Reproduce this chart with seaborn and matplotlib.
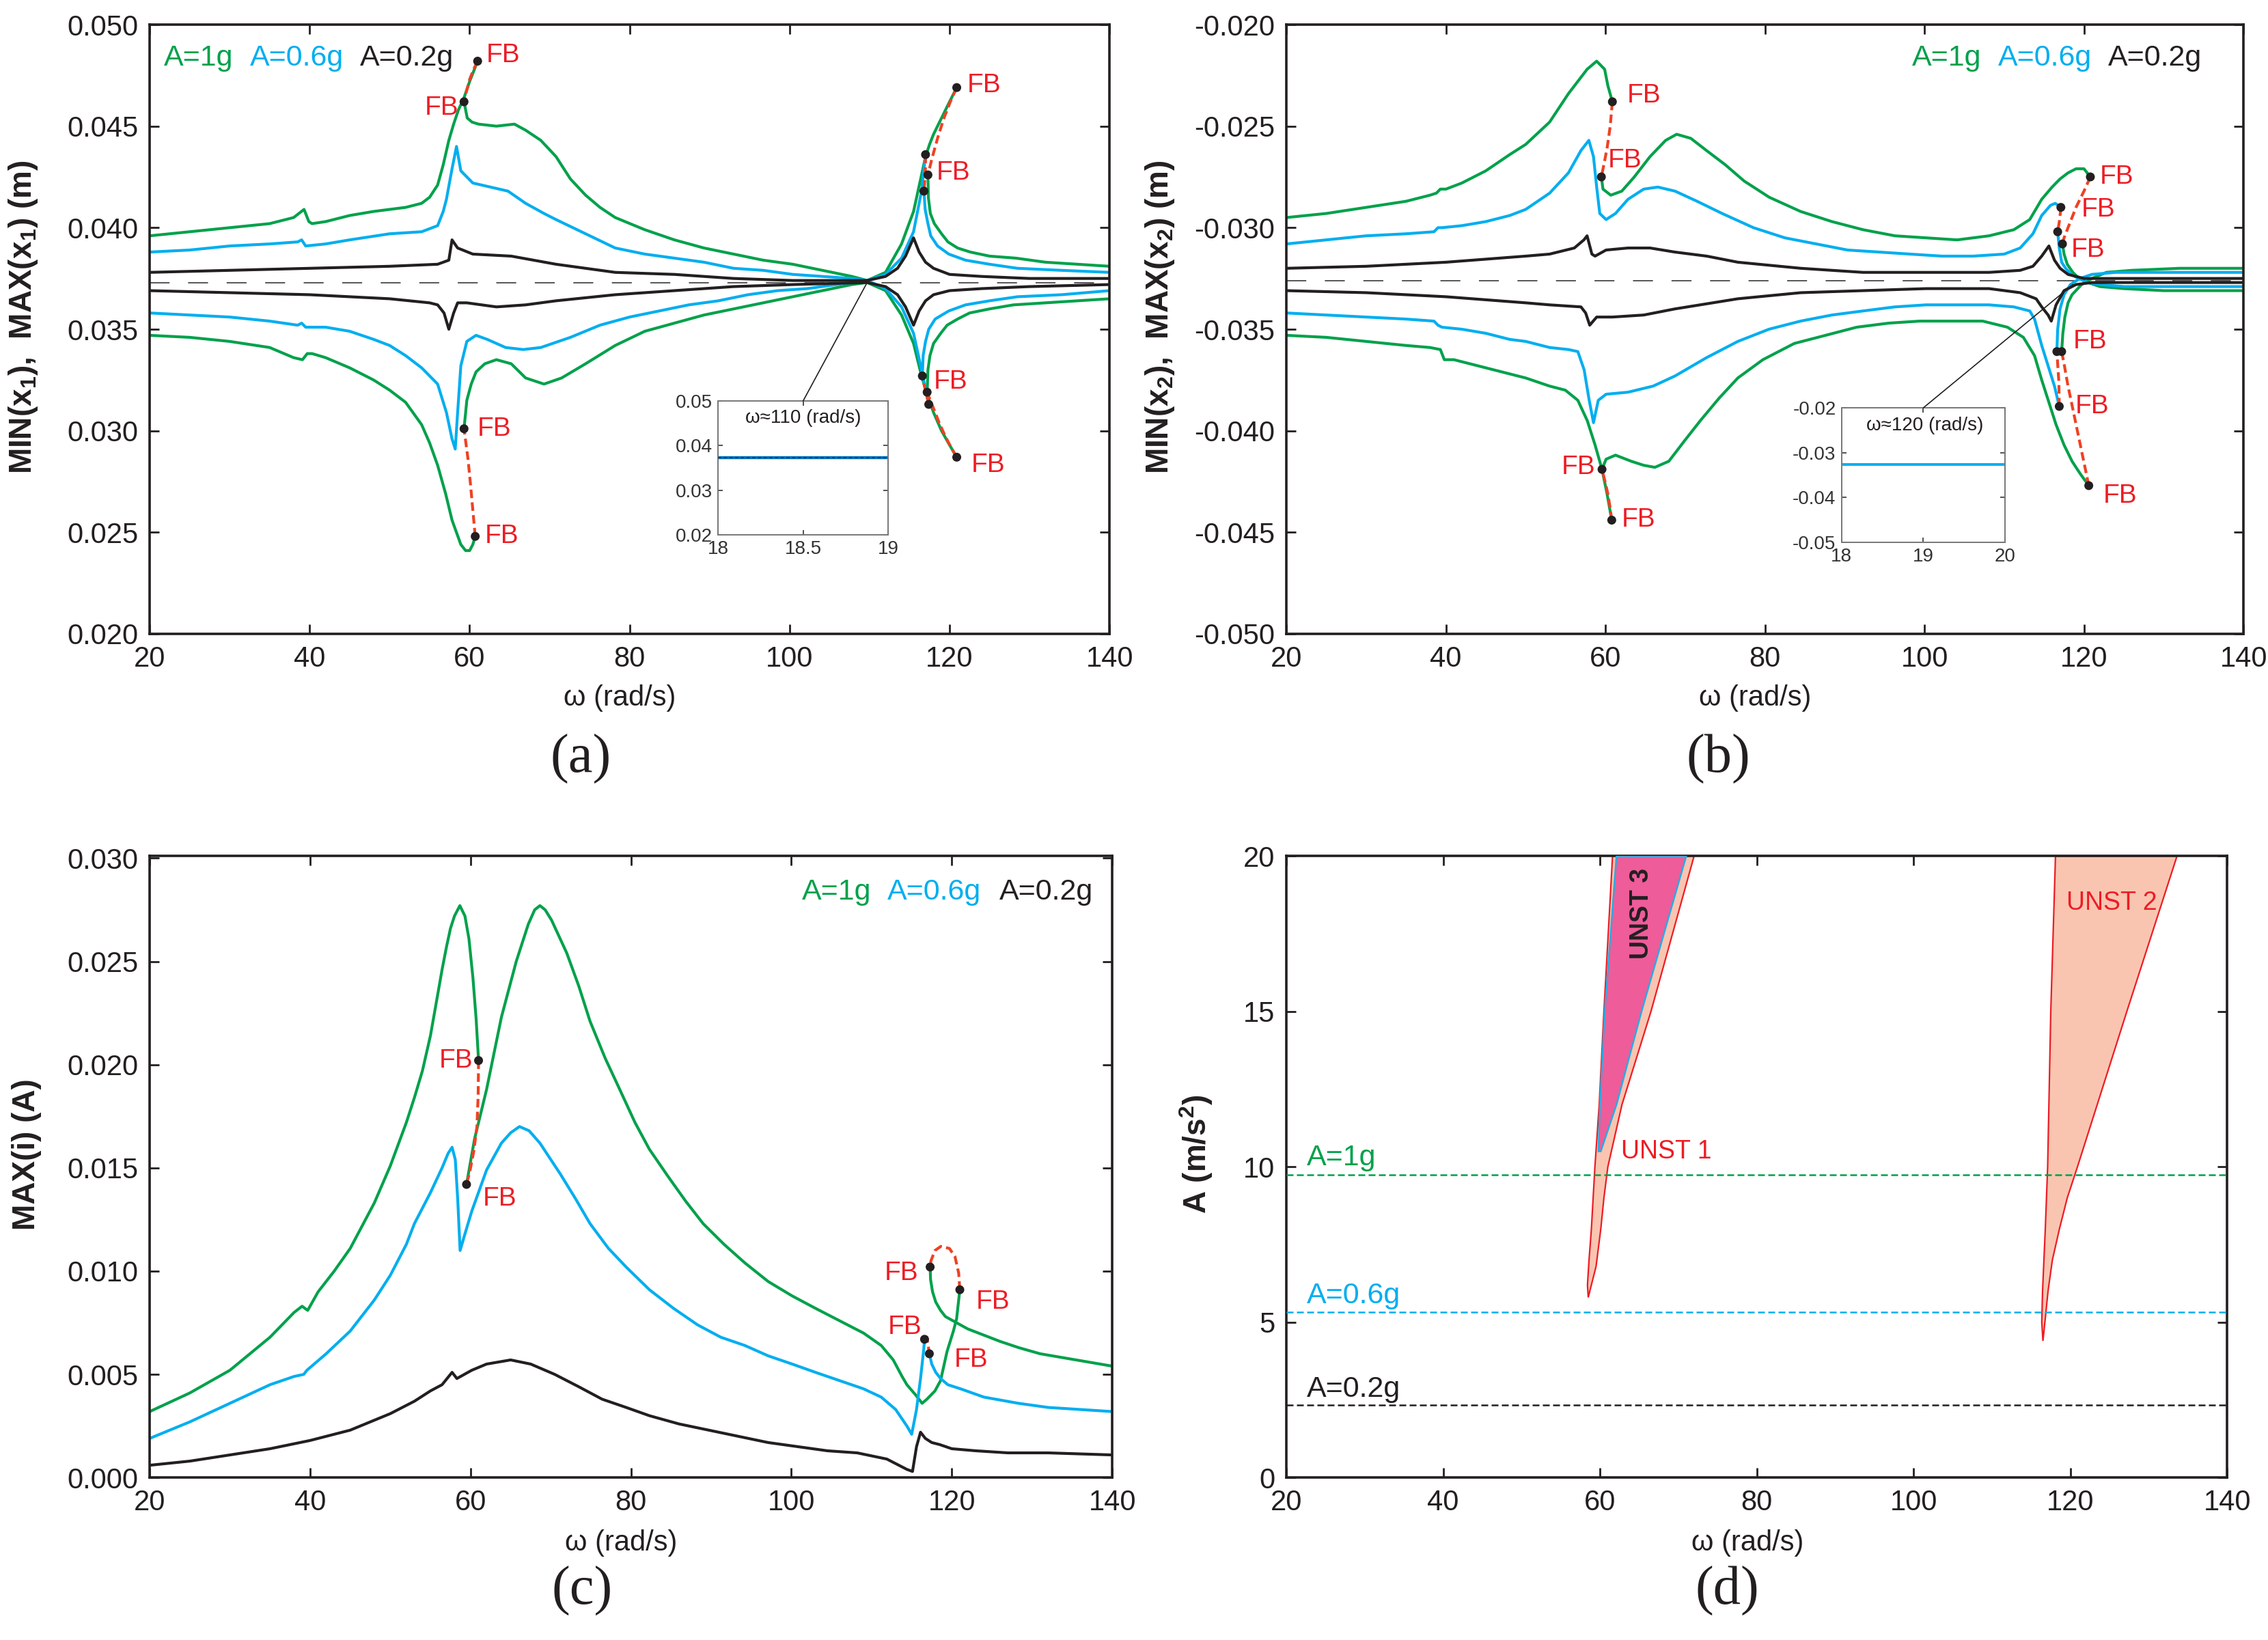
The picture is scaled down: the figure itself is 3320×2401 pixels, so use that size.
import matplotlib
matplotlib.use('Agg')
import matplotlib.pyplot as plt
import seaborn as sns
from matplotlib.patches import ConnectionPatch
from matplotlib.ticker import FormatStrFormatter

# ---------------- colours ----------------
GREEN = '#00a14b'
BLUE = '#00aeef'
BLACK = '#231f20'
RED_DASH = '#ef4123'
RED_TXT = '#ed1c24'

# ---------------- panel (a): MIN/MAX x1 ----------------
A1G_UP_W = [20, 25, 30, 35, 38, 39.3, 39.9, 40.3, 42, 45, 48, 50, 52, 54, 55, 56, 56.7, 57.4, 58.0, 58.6, 59.3, 60.0, 60.6, 61.0]
A1G_UP_V = [0.0396, 0.0398, 0.0400, 0.0402, 0.0405, 0.0409, 0.0403, 0.0402, 0.0403, 0.0406, 0.0408, 0.0409, 0.0410, 0.0412, 0.0415, 0.0421, 0.0431, 0.0443, 0.0451, 0.0458, 0.0464, 0.0472, 0.0478, 0.0482]
A1G_UPD_W = [61.0, 60.5, 60.0, 59.6, 59.3]
A1G_UPD_V = [0.0482, 0.0478, 0.0473, 0.0467, 0.0462]
A1G_UP2_W = [59.3, 59.7, 60.3, 61.1, 63.35, 65.6, 67.0, 68.9, 70.8, 72.6, 74.5, 76.3, 78.2, 81.9, 85.6, 89.3, 93.0, 96.7, 100.4, 104.1, 107.8, 109.7]
A1G_UP2_V = [0.0462, 0.0454, 0.0452, 0.0451, 0.0450, 0.0451, 0.0448, 0.0443, 0.0435, 0.0424, 0.0416, 0.0410, 0.0405, 0.0399, 0.0394, 0.0390, 0.0387, 0.0384, 0.0382, 0.0379, 0.0376, 0.0374]
A1G_UP3_W = [109.7, 112, 114, 115.5, 116.5, 117.0, 117.5, 118, 119, 120, 120.9]
A1G_UP3_V = [0.0374, 0.0378, 0.0392, 0.0408, 0.0426, 0.0435, 0.0441, 0.0446, 0.0454, 0.0462, 0.0469]
A1G_UP3D_W = [120.9, 120.2, 119.3, 118.5, 117.8, 117.3]
A1G_UP3D_V = [0.0469, 0.0463, 0.0454, 0.0444, 0.0434, 0.0426]
A1G_UP4_W = [117.3, 117.35, 117.6, 118.1, 119, 119.8, 121, 122.6, 125, 128.3, 132, 136, 140]
A1G_UP4_V = [0.0426, 0.0415, 0.0407, 0.0402, 0.0397, 0.0393, 0.0390, 0.0388, 0.0386, 0.0385, 0.0383, 0.0382, 0.0381]

A1G_LO_W = [20, 25, 30, 35, 38, 39.1, 39.7, 40.3, 42, 45, 48, 50, 52, 54, 55, 56, 57, 57.8, 58.9, 59.5, 60.0, 60.4, 60.7]
A1G_LO_V = [0.0347, 0.0346, 0.0344, 0.0341, 0.0336, 0.0335, 0.0338, 0.0338, 0.0336, 0.0331, 0.0325, 0.0320, 0.0314, 0.0303, 0.0294, 0.0283, 0.0269, 0.0256, 0.0244, 0.0241, 0.0241, 0.0244, 0.0248]
A1G_LOD_W = [60.7, 60.4, 60.1, 59.8, 59.5, 59.3]
A1G_LOD_V = [0.0248, 0.0261, 0.0274, 0.0286, 0.0295, 0.0301]
A1G_LO2_W = [59.3, 59.65, 60.2, 60.8, 61.9, 63.35, 65.2, 67.0, 69.3, 71.5, 74.5, 78.2, 81.9, 85.6, 89.3, 93.0, 96.7, 100.4, 104.1, 107.8, 109.7]
A1G_LO2_V = [0.0301, 0.0315, 0.0323, 0.0329, 0.0333, 0.0335, 0.0333, 0.0326, 0.0323, 0.0326, 0.0333, 0.0342, 0.0349, 0.0353, 0.0357, 0.0360, 0.0363, 0.0366, 0.0369, 0.0372, 0.0373]
A1G_LO3_W = [109.7, 112, 114, 115.5, 116.5, 117.2, 118, 119, 120, 120.9]
A1G_LO3_V = [0.0373, 0.0369, 0.0357, 0.0343, 0.0327, 0.0318, 0.0309, 0.0300, 0.0293, 0.0287]
A1G_LO3D_W = [120.9, 120.3, 119.5, 118.7, 117.9, 117.2]
A1G_LO3D_V = [0.0287, 0.0291, 0.0297, 0.0304, 0.0312, 0.0319]
A1G_LO4_W = [117.2, 117.3, 117.55, 118.0, 118.9, 119.7, 121, 122.5, 125, 128, 132, 136, 140]
A1G_LO4_V = [0.0319, 0.0330, 0.0337, 0.0343, 0.0348, 0.0352, 0.0355, 0.0358, 0.0360, 0.0362, 0.0363, 0.0364, 0.0365]

A06_UP_W = [20, 25, 30, 35, 38.5, 39.0, 39.5, 42, 45, 50, 54, 56, 56.7, 57.1, 57.8, 58.36, 58.9, 60.4, 62.6, 64.8, 67.0, 69.3, 70.8, 74.5, 78.2, 81.9, 85.6, 89.3, 93.0, 96.7, 100.4, 104.1, 107.8, 109.7, 112, 114, 115.5, 116.5, 117.0]
A06_UP_V = [0.0388, 0.0389, 0.0391, 0.0392, 0.0393, 0.0394, 0.0391, 0.0392, 0.0394, 0.0397, 0.0398, 0.0401, 0.0408, 0.0414, 0.0429, 0.0440, 0.0428, 0.0422, 0.0420, 0.0418, 0.0412, 0.0407, 0.0404, 0.0397, 0.0390, 0.0387, 0.0385, 0.0383, 0.0380, 0.0379, 0.0377, 0.0376, 0.0375, 0.0374, 0.0377, 0.0385, 0.0398, 0.0418, 0.0436]
A06_UPD_W = [117.0, 117.0, 116.9, 116.8]
A06_UPD_V = [0.0436, 0.0430, 0.0423, 0.0418]
A06_UP2_W = [116.8, 116.95, 117.3, 117.65, 118.5, 119.9, 122, 125, 128.5, 134, 140]
A06_UP2_V = [0.0418, 0.0409, 0.0402, 0.0396, 0.0391, 0.0387, 0.0384, 0.0382, 0.0380, 0.0379, 0.0378]
A06_LO_W = [20, 25, 30, 35, 38.5, 39.0, 39.5, 42, 45, 48, 50, 52, 54, 56.0, 57.1, 57.8, 58.2, 58.5, 58.9, 59.65, 60.8, 62.2, 64.5, 66.7, 68.9, 72.6, 76.3, 80.0, 83.7, 87.4, 91.1, 94.8, 98.5, 102.2, 105.9, 109.7, 112, 114, 115.5, 116.5, 117.4]
A06_LO_V = [0.0358, 0.0357, 0.0356, 0.0354, 0.0352, 0.0353, 0.0351, 0.0351, 0.0349, 0.0345, 0.0342, 0.0337, 0.0331, 0.0323, 0.0309, 0.0296, 0.0291, 0.0309, 0.0332, 0.0344, 0.0347, 0.0345, 0.0341, 0.0340, 0.0341, 0.0346, 0.0352, 0.0356, 0.0359, 0.0362, 0.0364, 0.0367, 0.0369, 0.0370, 0.0372, 0.0374, 0.0370, 0.0361, 0.0348, 0.0330, 0.0313]
A06_LOD_W = [117.4, 117.1, 116.8, 116.6]
A06_LOD_V = [0.0313, 0.0318, 0.0323, 0.0327]
A06_LO2_W = [116.6, 116.7, 117.0, 117.4, 118.2, 119.9, 122, 125, 128.5, 134, 140]
A06_LO2_V = [0.0327, 0.0337, 0.0344, 0.0350, 0.0355, 0.0359, 0.0362, 0.0364, 0.0366, 0.0367, 0.0369]

A02_UP_W = [20, 30, 40, 50, 56, 57.4, 57.8, 58.5, 60.4, 65.2, 70.8, 78.2, 85.6, 93.0, 100.4, 105, 109.7, 112, 113.5, 114.5, 115.5, 116.2, 117, 118, 120, 124, 130, 140]
A02_UP_V = [0.0378, 0.0379, 0.0380, 0.0381, 0.0382, 0.0384, 0.0394, 0.0390, 0.0387, 0.0386, 0.0382, 0.0378, 0.0377, 0.0375, 0.0374, 0.0374, 0.0374, 0.0376, 0.0380, 0.0386, 0.0395, 0.0388, 0.0383, 0.0380, 0.0377, 0.0376, 0.0375, 0.0375]
A02_LO_W = [20, 30, 40, 50, 55, 56.0, 56.8, 57.4, 58.0, 58.5, 59.65, 63.35, 67.0, 70.8, 78.2, 85.6, 93.0, 100.4, 109.7, 112, 113.5, 114.5, 115.5, 116.2, 117, 118, 120, 124, 130, 140]
A02_LO_V = [0.0369, 0.0368, 0.0367, 0.0365, 0.0363, 0.0362, 0.0358, 0.0350, 0.0358, 0.0363, 0.0363, 0.0361, 0.0362, 0.0364, 0.0367, 0.0369, 0.0371, 0.0372, 0.0373, 0.0371, 0.0367, 0.0361, 0.0352, 0.0359, 0.0364, 0.0367, 0.0369, 0.0370, 0.0371, 0.0372]
A_MEAN_W = [20, 140]
A_MEAN_V = [0.0373, 0.0373]

A_FB_W = [61.0, 59.3, 60.7, 59.3, 117.0, 117.3, 116.8, 120.9, 116.6, 117.2, 117.4, 120.9]
A_FB_V = [0.0482, 0.0462, 0.0248, 0.0301, 0.0436, 0.0426, 0.0418, 0.0469, 0.0327, 0.0319, 0.0313, 0.0287]
A_FBL_W = [62.1, 54.4, 122.2, 118.4, 118.0, 122.7, 61.0, 61.9]
A_FBL_V = [0.0485, 0.0459, 0.0470, 0.0427, 0.0324, 0.0283, 0.0301, 0.0248]

A_INSET_W = [18.0, 18.25, 18.5, 18.75, 19.0]
A_INSET_V = [0.0373, 0.0373, 0.0373, 0.0373, 0.0373]

# ---------------- panel (b): MIN/MAX x2 ----------------
B1G_UP_W = [20, 25, 30, 35, 38, 38.8, 39.3, 40, 42, 45, 48, 50, 53.0, 55.36, 57.7, 58.9, 59.9, 60.3, 60.87]
B1G_UP_V = [-0.0295, -0.0293, -0.0290, -0.0287, -0.0284, -0.0283, -0.0281, -0.0281, -0.0278, -0.0272, -0.0264, -0.0259, -0.0248, -0.0234, -0.0222, -0.0218, -0.0222, -0.0230, -0.0238]
B1G_UPD_W = [60.87, 60.6, 60.2, 59.8, 59.49]
B1G_UPD_V = [-0.0238, -0.0250, -0.0261, -0.0269, -0.0275]
B1G_UP2_W = [59.49, 59.69, 60.67, 62.05, 63.62, 65.59, 67.55, 68.93, 70.7, 72.67, 75.02, 77.38, 80.53, 84.46, 88.4, 92.3, 96.3, 100.2, 104.1, 108.1, 111.2, 113.2, 114.7, 116, 117, 118, 119, 120, 120.8]
B1G_UP2_V = [-0.0275, -0.0281, -0.0284, -0.0282, -0.0275, -0.0265, -0.0257, -0.0254, -0.0256, -0.0262, -0.0269, -0.0277, -0.0285, -0.0292, -0.0297, -0.0301, -0.0304, -0.0305, -0.0306, -0.0304, -0.0301, -0.0296, -0.0286, -0.0280, -0.0276, -0.0273, -0.0271, -0.0271, -0.0275]
B1G_UP2D_W = [120.8, 120.0, 119.0, 118.1, 117.5, 117.3]
B1G_UP2D_V = [-0.0275, -0.0282, -0.0290, -0.0299, -0.0305, -0.0308]
B1G_UP3_W = [117.3, 117.5, 117.9, 118.6, 119.4, 120.5, 122, 125, 130, 140]
B1G_UP3_V = [-0.0308, -0.0313, -0.0318, -0.0322, -0.0325, -0.0327, -0.0329, -0.0330, -0.0331, -0.0331]
B1G_LO_W = [20, 25, 30, 35, 38, 39.3, 39.8, 41, 43, 45, 48, 50, 53.0, 54.97, 56.54, 57.72, 58.7, 59.57, 60.2, 60.79]
B1G_LO_V = [-0.0353, -0.0354, -0.0356, -0.0358, -0.0359, -0.0360, -0.0365, -0.0365, -0.0367, -0.0369, -0.0372, -0.0374, -0.0378, -0.0380, -0.0385, -0.0395, -0.0407, -0.0419, -0.0431, -0.0444]
B1G_LOD_W = [60.79, 60.55, 60.3, 59.95, 59.57]
B1G_LOD_V = [-0.0444, -0.0437, -0.0431, -0.0425, -0.0419]
B1G_LO2_W = [59.57, 60.08, 61.26, 63.23, 64.8, 66.2, 67.95, 69.9, 71.9, 74.24, 76.6, 79.74, 83.68, 87.6, 91.5, 95.5, 99.4, 103.3, 107.3, 110.4, 112.4, 113.8, 114.7, 115.6, 116.5, 117.5, 118.5, 119.5, 120.6]
B1G_LO2_V = [-0.0419, -0.0414, -0.0412, -0.0415, -0.0417, -0.0418, -0.0415, -0.0405, -0.0395, -0.0384, -0.0374, -0.0365, -0.0357, -0.0353, -0.0349, -0.0347, -0.0346, -0.0346, -0.0346, -0.0349, -0.0354, -0.0363, -0.0375, -0.0386, -0.0397, -0.0407, -0.0415, -0.0421, -0.0427]
B1G_LO2D_W = [120.6, 119.7, 118.8, 118.0, 117.5, 117.2]
B1G_LO2D_V = [-0.0427, -0.0410, -0.0393, -0.0378, -0.0367, -0.0361]
B1G_LO3_W = [117.2, 117.35, 117.6, 118.0, 118.5, 119.7, 121, 122.8, 126, 132, 140]
B1G_LO3_V = [-0.0361, -0.0352, -0.0344, -0.0337, -0.0333, -0.0328, -0.0325, -0.0322, -0.0321, -0.0320, -0.0320]

B06_UP_W = [20, 25, 30, 35, 38.5, 39, 39.5, 42, 45, 48, 50, 53.0, 55.36, 56.93, 57.92, 58.5, 58.9, 59.29, 60.08, 61.26, 62.83, 64.8, 66.57, 68.73, 71.49, 74.63, 78.56, 82.5, 86.43, 90.36, 94.3, 98.2, 102.2, 106.1, 110.0, 112.0, 113.6, 114.7, 115.8, 116.4, 117.1]
B06_UP_V = [-0.0308, -0.0306, -0.0304, -0.0303, -0.0302, -0.0300, -0.0300, -0.0299, -0.0297, -0.0294, -0.0291, -0.0283, -0.0273, -0.0262, -0.0257, -0.0265, -0.0280, -0.0293, -0.0296, -0.0293, -0.0286, -0.0281, -0.0280, -0.0282, -0.0287, -0.0293, -0.0300, -0.0305, -0.0308, -0.0311, -0.0312, -0.0313, -0.0314, -0.0314, -0.0313, -0.0310, -0.0303, -0.0294, -0.0289, -0.0288, -0.0290]
B06_UPD_W = [117.1, 116.95, 116.7]
B06_UPD_V = [-0.0290, -0.0296, -0.0302]
B06_UP2_W = [116.7, 116.9, 117.2, 117.7, 118.4, 119.3, 120.5, 122, 125, 130, 140]
B06_UP2_V = [-0.0302, -0.0310, -0.0317, -0.0320, -0.0323, -0.0325, -0.0327, -0.0328, -0.0329, -0.0329, -0.0329]
B06_LO_W = [20, 25, 30, 35, 38.5, 39, 39.5, 42, 45, 48, 50, 53.0, 55.36, 56.54, 57.33, 57.92, 58.5, 59.1, 60.08, 62.83, 65.98, 68.73, 72.67, 76.6, 80.5, 84.46, 88.4, 92.3, 96.3, 100.2, 104.1, 108.1, 111.2, 113.2, 113.8, 114.7, 115.5, 116.3, 116.9]
B06_LO_V = [-0.0342, -0.0343, -0.0344, -0.0345, -0.0346, -0.0348, -0.0349, -0.0350, -0.0352, -0.0355, -0.0356, -0.0359, -0.0360, -0.0361, -0.0370, -0.0384, -0.0396, -0.0385, -0.0382, -0.0381, -0.0378, -0.0373, -0.0364, -0.0356, -0.0350, -0.0346, -0.0343, -0.0341, -0.0339, -0.0338, -0.0338, -0.0338, -0.0339, -0.0341, -0.0345, -0.0358, -0.0368, -0.0378, -0.0388]
B06_LOD_W = [116.9, 116.85, 116.7, 116.6]
B06_LOD_V = [-0.0388, -0.0376, -0.0367, -0.0361]
B06_LO2_W = [116.6, 116.7, 117.0, 117.5, 118.3, 119.5, 121, 124, 128, 134, 140]
B06_LO2_V = [-0.0361, -0.0350, -0.0340, -0.0333, -0.0328, -0.0325, -0.0323, -0.0322, -0.0322, -0.0322, -0.0322]

B02_UP_W = [20, 30, 40, 50, 53.0, 56.1, 57.3, 57.7, 58.3, 58.7, 60.08, 62.83, 65.6, 68.7, 72.7, 76.6, 84.5, 92.3, 100.2, 108.1, 112.0, 113.6, 114.7, 115.6, 116.3, 117, 118, 120, 125, 130, 140]
B02_UP_V = [-0.0320, -0.0319, -0.0317, -0.0314, -0.0313, -0.0310, -0.0306, -0.0304, -0.0313, -0.0314, -0.0311, -0.0310, -0.0310, -0.0312, -0.0314, -0.0317, -0.0320, -0.0322, -0.0322, -0.0322, -0.0321, -0.0319, -0.0314, -0.0309, -0.0316, -0.0320, -0.0323, -0.0325, -0.0325, -0.0325, -0.0325]
B02_LO_W = [20, 30, 40, 50, 53.0, 56.93, 57.52, 58.03, 58.9, 60.87, 64.8, 68.7, 76.6, 84.5, 92.3, 100.2, 108.1, 112.0, 114.0, 114.7, 115.5, 115.9, 116.5, 117.5, 119, 121, 130, 140]
B02_LO_V = [-0.0331, -0.0332, -0.0334, -0.0337, -0.0338, -0.0339, -0.0342, -0.0348, -0.0344, -0.0344, -0.0343, -0.0340, -0.0335, -0.0332, -0.0331, -0.0330, -0.0330, -0.0332, -0.0335, -0.0339, -0.0343, -0.0346, -0.0338, -0.0331, -0.0328, -0.0327, -0.0327, -0.0327]
B_MEAN_W = [20, 140]
B_MEAN_V = [-0.0326, -0.0326]

B_FB_W = [60.87, 59.49, 59.57, 60.79, 120.8, 117.1, 116.7, 117.3, 116.6, 117.2, 116.9, 120.6]
B_FB_V = [-0.0238, -0.0275, -0.0419, -0.0444, -0.0275, -0.0290, -0.0302, -0.0308, -0.0361, -0.0361, -0.0388, -0.0427]
B_FBL_W = [62.7, 60.3, 122.0, 119.7, 118.4, 118.6, 118.9, 122.4, 54.5, 62.0]
B_FBL_V = [-0.0235, -0.0267, -0.0275, -0.0291, -0.0311, -0.0356, -0.0388, -0.0432, -0.0418, -0.0444]

B_INSET_W = [18.0, 18.5, 19.0, 19.5, 20.0]
B_INSET_V = [-0.0326, -0.0326, -0.0326, -0.0326, -0.0326]

# ---------------- panel (c): MAX(i) ----------------
C1G_W = [20, 25, 30, 35, 38, 39, 39.7, 41, 43, 45, 48, 50, 52, 53, 54, 55, 56, 56.45, 57, 57.5, 58, 58.67, 59.3, 59.8, 60.3, 60.7, 61.0]
C1G_V = [0.0032, 0.0041, 0.0052, 0.0068, 0.0080, 0.0083, 0.0081, 0.0090, 0.0100, 0.0111, 0.0133, 0.0151, 0.0172, 0.0184, 0.0197, 0.0214, 0.0236, 0.0246, 0.0257, 0.0266, 0.0272, 0.0277, 0.0272, 0.0261, 0.0242, 0.0222, 0.0202]
C1G_D_W = [61.0, 60.95, 60.8, 60.4, 59.9, 59.5]
C1G_D_V = [0.0202, 0.0185, 0.0170, 0.0158, 0.0148, 0.0142]
C1G2_W = [59.5, 60.5, 62.0, 63.85, 65.7, 67.2, 68.0, 68.65, 69.3, 70.1, 72.0, 73.5, 74.9, 76.8, 78.6, 80.5, 82.3, 84.6, 86.8, 89.0, 91.6, 94.2, 97.1, 100.1, 103.0, 106.0, 109.0, 111.2, 112.7, 113.8, 114.4, 115.5, 116.3, 116.9, 117.9, 118.6, 119.4, 120.2, 120.6, 121.0]
C1G2_V = [0.0142, 0.0164, 0.0188, 0.0223, 0.0250, 0.0268, 0.0275, 0.0277, 0.0275, 0.0270, 0.0254, 0.0238, 0.0221, 0.0203, 0.0188, 0.0172, 0.0159, 0.0146, 0.0134, 0.0123, 0.0113, 0.0104, 0.0095, 0.0088, 0.0082, 0.0076, 0.0070, 0.0064, 0.0057, 0.0049, 0.0045, 0.0040, 0.0036, 0.0038, 0.0042, 0.0047, 0.0061, 0.0071, 0.0077, 0.0091]
C1G_LOOP_W = [121.0, 120.86, 120.4, 119.7, 118.64, 117.9, 117.4, 117.3]
C1G_LOOP_V = [0.0091, 0.0099, 0.0107, 0.0111, 0.0112, 0.0110, 0.0105, 0.0102]
C1G3_W = [117.3, 117.35, 117.6, 118.0, 118.6, 119.2, 120.6, 122, 124, 126, 128.3, 131, 134, 137, 140]
C1G3_V = [0.0102, 0.0096, 0.0090, 0.0085, 0.0081, 0.0078, 0.0075, 0.0072, 0.0069, 0.0066, 0.0063, 0.0060, 0.0058, 0.0056, 0.0054]

C06_W = [20, 25, 30, 35, 38, 39.2, 39.6, 42, 45, 48, 50, 52, 53, 55, 56.45, 57.2, 57.7, 58.1, 58.4, 58.7, 59.3, 60.15, 62.0, 63.85, 65.0, 66.1, 67.3, 68.65, 71.2, 73.1, 74.9, 77.2, 79.4, 82.3, 85.3, 88.3, 91.2, 94.2, 97.1, 100.1, 103.0, 106.0, 109.0, 111.2, 113.0, 114.4, 115.0, 115.6, 116.1, 116.5, 116.6]
C06_V = [0.0019, 0.0027, 0.0036, 0.0045, 0.0049, 0.0050, 0.0052, 0.0060, 0.0071, 0.0086, 0.0098, 0.0113, 0.0123, 0.0138, 0.0150, 0.0157, 0.0160, 0.0154, 0.0135, 0.0110, 0.0118, 0.0129, 0.0149, 0.0162, 0.0167, 0.0170, 0.0168, 0.0162, 0.0147, 0.0135, 0.0123, 0.0111, 0.0102, 0.0091, 0.0082, 0.0074, 0.0068, 0.0064, 0.0059, 0.0055, 0.0051, 0.0047, 0.0043, 0.0039, 0.0033, 0.0025, 0.0021, 0.0033, 0.0048, 0.0062, 0.0067]
C06_D_W = [116.6, 116.9, 117.2]
C06_D_V = [0.0067, 0.0068, 0.0060]
C06_2_W = [117.2, 117.5, 118.0, 118.6, 119.5, 121.1, 124.0, 128.3, 132, 136, 140]
C06_2_V = [0.0060, 0.0055, 0.0051, 0.0048, 0.0045, 0.0043, 0.0039, 0.0036, 0.0034, 0.0033, 0.0032]

C02_W = [20, 25, 30, 35, 40, 45, 50, 53, 55, 56.45, 57.7, 58.3, 60.15, 62.0, 65.0, 67.5, 70.5, 73.5, 76.4, 79.4, 82.3, 86.0, 89.7, 93.4, 97.1, 100.8, 104.5, 108.2, 111.9, 113.4, 114.4, 115.1, 115.6, 116.1, 116.7, 117.5, 118.5, 120, 123, 127, 132, 140]
C02_V = [0.0006, 0.0008, 0.0011, 0.0014, 0.0018, 0.0023, 0.0031, 0.0037, 0.0042, 0.0045, 0.0051, 0.0048, 0.0052, 0.0055, 0.0057, 0.0055, 0.0050, 0.0044, 0.0038, 0.0034, 0.0030, 0.0026, 0.0023, 0.0020, 0.0017, 0.0015, 0.0013, 0.0012, 0.0009, 0.0006, 0.0004, 0.0003, 0.0015, 0.0022, 0.0019, 0.0017, 0.0016, 0.0014, 0.0013, 0.0012, 0.0012, 0.0011]

C_FB_W = [61.0, 59.5, 117.3, 121.0, 116.6, 117.2]
C_FB_V = [0.0202, 0.0142, 0.0102, 0.0091, 0.0067, 0.0060]
C_FBL_W = [56.1, 61.5, 111.6, 123.0, 112.0, 120.3]
C_FBL_V = [0.0202, 0.0135, 0.0099, 0.0085, 0.0073, 0.0057]

# ---------------- panel (d): instability regions ----------------
UNST1_W = [58.5, 58.4, 58.6, 58.9, 59.35, 59.9, 60.5, 61.6, 72.0, 66.5, 62.8, 61.0, 60.5, 60.1, 59.5, 58.9, 58.5]
UNST1_A = [5.8, 6.2, 7.0, 8.0, 10.0, 12.0, 15.0, 20.0, 20.0, 15.0, 12.0, 10.0, 9.0, 8.0, 6.8, 6.2, 5.8]
UNST3_W = [59.8, 60.0, 60.6, 62.1, 71.0, 65.3, 62.1, 60.1, 59.8]
UNST3_A = [10.5, 12.0, 15.0, 20.0, 20.0, 15.0, 12.0, 10.5, 10.5]
UNST2_W = [116.5, 116.35, 116.45, 116.8, 117.1, 117.5, 118.1, 133.6, 127.2, 120.9, 119.6, 118.6, 117.7, 117.15, 116.75, 116.5]
UNST2_A = [4.4, 5.0, 6.0, 8.0, 10.0, 15.0, 20.0, 20.0, 15.0, 10.0, 9.0, 8.0, 7.0, 6.0, 5.0, 4.4]
D_LEVEL_W = [20, 140]
D_LEVEL_1G = [9.75, 9.75]
D_LEVEL_06G = [5.32, 5.32]
D_LEVEL_02G = [2.33, 2.33]

LEG_LABELS = ['A=1g', 'A=0.6g', 'A=0.2g']
LEG_COLORS = [GREEN, BLUE, BLACK]
A_LEG_W = [21.8, 32.5, 46.3]
A_LEG_V = 0.04836
B_LEG_W = [98.4, 109.2, 123.0]
B_LEG_V = -0.02164
C_LEG_W = [101.3, 112.0, 125.9]
C_LEG_V = 0.02835
D_LEG_W = 22.6
D_LEG_A = [10.3, 5.86, 2.85]

X_TICKS = [20, 40, 60, 80, 100, 120, 140]
A_YTICKS = [0.020, 0.025, 0.030, 0.035, 0.040, 0.045, 0.050]
B_YTICKS = [-0.050, -0.045, -0.040, -0.035, -0.030, -0.025, -0.020]
C_YTICKS = [0.000, 0.005, 0.010, 0.015, 0.020, 0.025, 0.030]
D_YTICKS = [0, 5, 10, 15, 20]

# ---------------- style ----------------
sns.set_theme(style='white')
plt.rcParams['font.family'] = ['Liberation Sans', 'DejaVu Sans']
plt.rcParams['mathtext.default'] = 'regular'
plt.rcParams['axes.unicode_minus'] = False

LW = 1.5
DASH = (0, (3, 1.5))

fig = plt.figure(figsize=(16.6, 12.005), dpi=200)
axA = fig.add_axes([0.0660, 0.6135, 0.4232, 0.3715])
axB = fig.add_axes([0.5672, 0.6135, 0.4220, 0.3715])
axC = fig.add_axes([0.0660, 0.0990, 0.4244, 0.3790])
axD = fig.add_axes([0.5672, 0.0990, 0.4148, 0.3790])


def line(ax, w, v, color, lw=LW, ls='-', z=2):
    sns.lineplot(x=w, y=v, ax=ax, color=color, linewidth=lw, linestyle=ls,
                 sort=False, estimator=None, errorbar=None, zorder=z, legend=False)


def style_axes(ax, xlim, ylim, yticks, fmt, ylabel, ylab_x):
    ax.set_xlim(*xlim)
    ax.set_ylim(*ylim)
    ax.set_xticks(X_TICKS)
    ax.set_yticks(yticks)
    if fmt:
        ax.yaxis.set_major_formatter(FormatStrFormatter(fmt))
    ax.tick_params(direction='in', top=True, right=True, bottom=True, left=True,
                   length=5, width=1, labelsize=15, pad=6, colors=BLACK)
    for s in ax.spines.values():
        s.set_linewidth(1.3)
        s.set_color(BLACK)
    ax.set_xlabel('ω (rad/s)', fontsize=15, color=BLACK)
    ax.set_ylabel(ylabel, fontsize=16.5, fontweight='bold', color=BLACK)
    ax.xaxis.set_label_coords(0.49, -0.083)
    ax.yaxis.set_label_coords(ylab_x, 0.52)
    ax.grid(False)


def fb(ax, w, v, lw_, lv):
    sns.scatterplot(x=w, y=v, ax=ax, color=BLACK, s=22, edgecolor='none', zorder=6, legend=False)
    for x, y in zip(lw_, lv):
        ax.text(x, y, 'FB', color=RED_TXT, fontsize=14, ha='left', va='center', zorder=7)


def legend_text(ax, xs, y):
    for x, lab, c in zip(xs, LEG_LABELS, LEG_COLORS):
        ax.text(x, y, lab, color=c, fontsize=15.5, ha='left', va='center')


# ---------------- (a) ----------------
ax = axA
line(ax, A_MEAN_W, A_MEAN_V, '#555555', lw=0.7, ls=(0, (15, 14)), z=1)
for w, v in [(A1G_UP_W, A1G_UP_V), (A1G_UP2_W, A1G_UP2_V), (A1G_UP3_W, A1G_UP3_V), (A1G_UP4_W, A1G_UP4_V),
             (A1G_LO_W, A1G_LO_V), (A1G_LO2_W, A1G_LO2_V), (A1G_LO3_W, A1G_LO3_V), (A1G_LO4_W, A1G_LO4_V)]:
    line(ax, w, v, GREEN)
for w, v in [(A06_UP_W, A06_UP_V), (A06_UP2_W, A06_UP2_V), (A06_LO_W, A06_LO_V), (A06_LO2_W, A06_LO2_V)]:
    line(ax, w, v, BLUE)
for w, v in [(A02_UP_W, A02_UP_V), (A02_LO_W, A02_LO_V)]:
    line(ax, w, v, BLACK)
for w, v in [(A1G_UPD_W, A1G_UPD_V), (A1G_UP3D_W, A1G_UP3D_V), (A1G_LOD_W, A1G_LOD_V), (A1G_LO3D_W, A1G_LO3D_V),
             (A06_UPD_W, A06_UPD_V), (A06_LOD_W, A06_LOD_V)]:
    line(ax, w, v, RED_DASH, lw=1.5, ls=DASH, z=4)
fb(ax, A_FB_W, A_FB_V, A_FBL_W, A_FBL_V)
legend_text(ax, A_LEG_W, A_LEG_V)
style_axes(ax, (20, 140), (0.020, 0.050), A_YTICKS, '%.3f', 'MIN(x$_1$),  MAX(x$_1$) (m)', -0.115)

insA = fig.add_axes([0.3166, 0.6739, 0.0750, 0.0816])
line(insA, A_INSET_W, A_INSET_V, '#0072bd', lw=1.6)
line(insA, A_INSET_W, A_INSET_V, '#1a3a5a', lw=0.6, ls=(0, (3, 2)), z=3)
insA.set_xlim(18, 19)
insA.set_ylim(0.02, 0.05)
insA.set_xticks([18, 18.5, 19])
insA.set_xticklabels(['18', '18.5', '19'])
insA.set_yticks([0.02, 0.03, 0.04, 0.05])
insA.set_yticklabels(['0.02', '0.03', '0.04', '0.05'])
insA.text(18.5, 0.0462, 'ω≈110 (rad/s)', ha='center', va='center', fontsize=10, color=BLACK)

# ---------------- (b) ----------------
ax = axB
line(ax, B_MEAN_W, B_MEAN_V, '#555555', lw=0.7, ls=(0, (15, 14)), z=1)
for w, v in [(B1G_UP_W, B1G_UP_V), (B1G_UP2_W, B1G_UP2_V), (B1G_UP3_W, B1G_UP3_V),
             (B1G_LO_W, B1G_LO_V), (B1G_LO2_W, B1G_LO2_V), (B1G_LO3_W, B1G_LO3_V)]:
    line(ax, w, v, GREEN)
for w, v in [(B06_UP_W, B06_UP_V), (B06_UP2_W, B06_UP2_V), (B06_LO_W, B06_LO_V), (B06_LO2_W, B06_LO2_V)]:
    line(ax, w, v, BLUE)
for w, v in [(B02_UP_W, B02_UP_V), (B02_LO_W, B02_LO_V)]:
    line(ax, w, v, BLACK)
for w, v in [(B1G_UPD_W, B1G_UPD_V), (B1G_UP2D_W, B1G_UP2D_V), (B1G_LOD_W, B1G_LOD_V), (B1G_LO2D_W, B1G_LO2D_V),
             (B06_UPD_W, B06_UPD_V), (B06_LOD_W, B06_LOD_V)]:
    line(ax, w, v, RED_DASH, lw=1.5, ls=DASH, z=4)
fb(ax, B_FB_W, B_FB_V, B_FBL_W, B_FBL_V)
legend_text(ax, B_LEG_W, B_LEG_V)
style_axes(ax, (20, 140), (-0.050, -0.020), B_YTICKS, '%.3f', 'MIN(x$_2$),  MAX(x$_2$) (m)', -0.115)

insB = fig.add_axes([0.8120, 0.6693, 0.0720, 0.0820])
line(insB, B_INSET_W, B_INSET_V, BLUE, lw=1.4)
insB.set_xlim(18, 20)
insB.set_ylim(-0.05, -0.02)
insB.set_xticks([18, 19, 20])
insB.set_xticklabels(['18', '19', '20'])
insB.set_yticks([-0.05, -0.04, -0.03, -0.02])
insB.set_yticklabels(['-0.05', '-0.04', '-0.03', '-0.02'])
insB.text(19.02, -0.0239, 'ω≈120 (rad/s)', ha='center', va='center', fontsize=10, color=BLACK)

for ins in (insA, insB):
    ins.tick_params(direction='in', top=True, right=True, bottom=True, left=True,
                    length=2.5, width=0.6, labelsize=10, pad=3, colors='#333333')
    for s in ins.spines.values():
        s.set_linewidth(0.7)
        s.set_color('#777777')
    ins.set_xlabel('')
    ins.set_ylabel('')
    ins.grid(False)
    ins.set_facecolor('white')

conA = ConnectionPatch(xyA=(18.5, 0.05), coordsA=insA.transData, xyB=(109.7, 0.0373), coordsB=axA.transData,
                       color=BLACK, lw=0.6, zorder=10)
fig.add_artist(conA)
conB = ConnectionPatch(xyA=(19.0, -0.02), coordsA=insB.transData, xyB=(118.6, -0.0328), coordsB=axB.transData,
                       color=BLACK, lw=0.6, zorder=10)
fig.add_artist(conB)

# ---------------- (c) ----------------
ax = axC
for w, v in [(C1G_W, C1G_V), (C1G2_W, C1G2_V), (C1G3_W, C1G3_V)]:
    line(ax, w, v, GREEN)
for w, v in [(C06_W, C06_V), (C06_2_W, C06_2_V)]:
    line(ax, w, v, BLUE)
line(ax, C02_W, C02_V, BLACK)
for w, v in [(C1G_D_W, C1G_D_V), (C1G_LOOP_W, C1G_LOOP_V), (C06_D_W, C06_D_V)]:
    line(ax, w, v, RED_DASH, lw=1.5, ls=DASH, z=4)
fb(ax, C_FB_W, C_FB_V, C_FBL_W, C_FBL_V)
legend_text(ax, C_LEG_W, C_LEG_V)
style_axes(ax, (20, 140), (0.0, 0.0301), C_YTICKS, '%.3f', 'MAX(i) (A)', -0.112)

# ---------------- (d) ----------------
ax = axD
ax.fill(UNST1_W, UNST1_A, facecolor='#f9c5b1', edgecolor=RED_TXT, linewidth=0.8, zorder=2)
ax.fill(UNST2_W, UNST2_A, facecolor='#f9c5b1', edgecolor=RED_TXT, linewidth=0.8, zorder=2)
ax.fill(UNST3_W, UNST3_A, facecolor='#ee5c9a', edgecolor='#29abe2', linewidth=0.9, zorder=3)
line(ax, D_LEVEL_W, D_LEVEL_1G, GREEN, lw=0.9, ls=(0, (4, 2)), z=4)
line(ax, D_LEVEL_W, D_LEVEL_06G, BLUE, lw=0.9, ls=(0, (4, 2)), z=4)
line(ax, D_LEVEL_W, D_LEVEL_02G, BLACK, lw=0.9, ls=(0, (4, 2)), z=4)
for a, lab, c in zip(D_LEG_A, LEG_LABELS, LEG_COLORS):
    ax.text(D_LEG_W, a, lab, color=c, fontsize=15.5, ha='left', va='center')
ax.text(62.7, 10.5, 'UNST 1', color=RED_TXT, fontsize=13.5, ha='left', va='center', zorder=6)
ax.text(119.5, 18.5, 'UNST 2', color=RED_TXT, fontsize=13.5, ha='left', va='center', zorder=6)
ax.text(65.3, 18.16, 'UNST 3', color=BLACK, fontsize=13.5, fontweight='bold', rotation=90,
        ha='center', va='center', zorder=6)
style_axes(ax, (20, 140), (0, 20), D_YTICKS, None, 'A (m/s$^2$)', -0.076)

# ---------------- panel captions ----------------
for x, y, t in [(0.256, 0.537, '(a)'), (0.7575, 0.537, '(b)'), (0.2566, 0.030, '(c)'), (0.7615, 0.030, '(d)')]:
    fig.text(x, y, t, fontsize=29, family=['Liberation Serif', 'DejaVu Serif'], ha='center', va='center', color=BLACK)

fig.savefig('out.png', dpi=200, facecolor='white')
